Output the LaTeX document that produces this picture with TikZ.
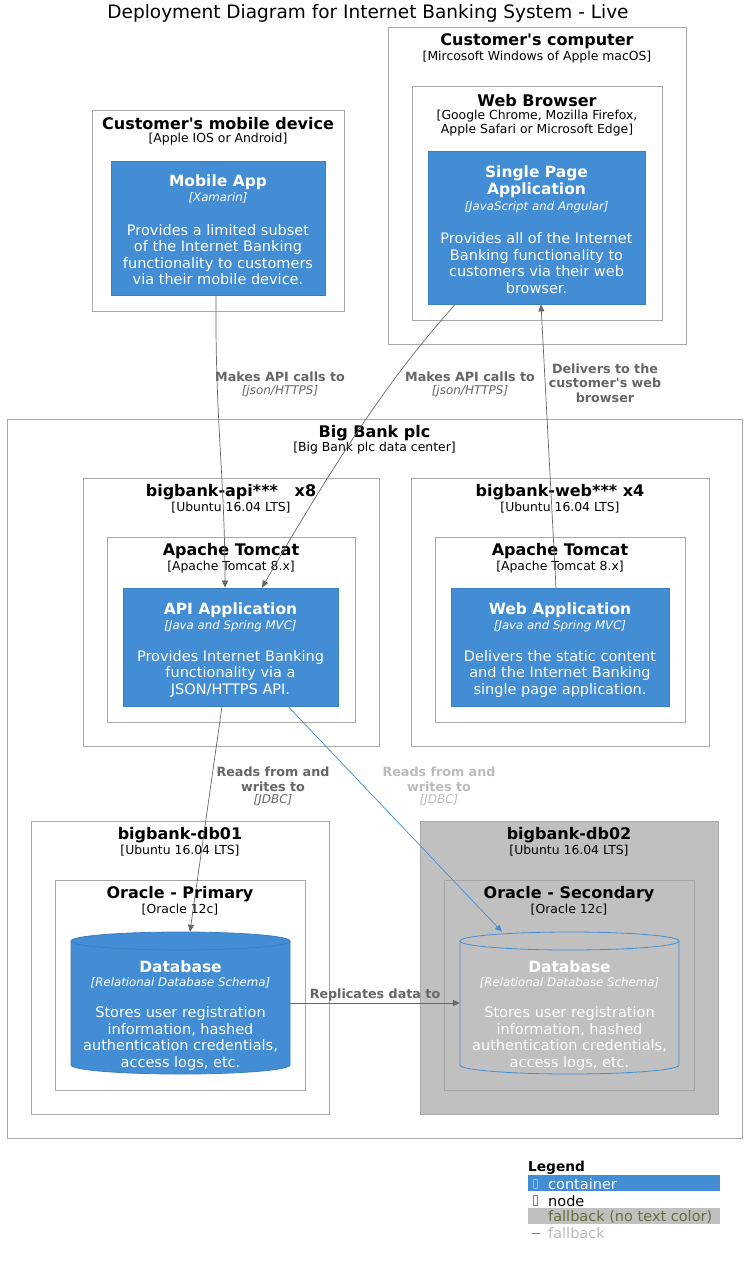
\documentclass[tikz,border=0pt]{standalone}
\usepackage{fontspec}
\setmainfont{DejaVu Sans}
\usetikzlibrary{arrows.meta}
\definecolor{cblue}{HTML}{438DD5}
\definecolor{cbluedk}{HTML}{3C7FC0}
\definecolor{bgray}{HTML}{A8A8A8}
\definecolor{fgray}{HTML}{C0C0C0}
\definecolor{agray}{HTML}{666666}
\definecolor{lgray}{HTML}{BBBBBB}
\definecolor{olive}{HTML}{6B6B3B}
\newcommand{\apos}{\textquotesingle}
\tikzset{
  nodebox/.style={draw=bgray, fill=white, line width=1pt, inner sep=0pt},
  graybox/.style={draw=bgray, fill=fgray, line width=1pt, inner sep=0pt},
  contbox/.style={draw=cbluedk, fill=cblue, line width=0.8pt, inner sep=0pt},
  txt/.style={inner sep=0pt, align=center, yshift=-1.2pt},
  ttl/.style={txt, font=\bfseries\fontsize{16}{18}\selectfont},
  sub/.style={txt, font=\fontsize{12.4}{14}\selectfont},
  ctitle/.style={txt, text=white, font=\bfseries\fontsize{15.5}{17}\selectfont},
  ctech/.style={txt, text=white, font=\itshape\fontsize{11.8}{14}\selectfont},
  cdesc/.style={txt, text=white, font=\fontsize{14.5}{16.5}\selectfont},
  rlab/.style={txt, text=agray, font=\bfseries\fontsize{12.7}{14.3}\selectfont},
  rtech/.style={txt, text=agray, font=\itshape\fontsize{12}{14}\selectfont},
  lgt/.style={txt, anchor=west, font=\fontsize{14.5}{16}\selectfont},
  rel/.style={draw=agray, line width=0.7pt, -{Triangle[length=7pt,width=6pt]}},
  relblue/.style={draw=cblue, line width=0.7pt, -{Triangle[length=7pt,width=6pt]}},
  ghost/.style={inner sep=0pt, draw=none}
}
\begin{document}
\begin{tikzpicture}[x=1pt,y=-1pt]
\useasboundingbox (0,0) rectangle (747,1262);
\fill[white] (0,0) rectangle (747,1262);

\node[txt, font=\fontsize{18.5}{21}\selectfont] (title) at (368,12) {Deployment Diagram for Internet Banking System - Live};

% Customer's computer
\node[nodebox, minimum width=298pt, minimum height=317pt] (cc) at (537,185.5) {};
\node[ttl] (cct) at (537,40) {Customer\apos s computer};
\node[sub] (ccs) at (537,56) {[Mircosoft Windows of Apple macOS]};
\node[nodebox, minimum width=250pt, minimum height=234pt] (wb) at (537,203) {};
\node[ttl] (wbt) at (537,99) {Web Browser};
\node[sub] (wbs) at (537,122) {[Google Chrome, Mozilla Firefox,\\Apple Safari or Microsoft Edge]};
\node[contbox, minimum width=217pt, minimum height=153pt] (spa) at (536.5,227.5) {};
\node[ctitle] (spat) at (536.5,180.5) {Single Page\\Application};
\node[ctech] (spak) at (536.5,206) {[JavaScript and Angular]};
\node[cdesc] (spad) at (536.5,262) {Provides all of the Internet\\Banking functionality to\\customers via their web\\browser.};

% Mobile device
\node[nodebox, minimum width=252pt, minimum height=201pt] (md) at (218,210.5) {};
\node[ttl] (mdt) at (218,122) {Customer\apos s mobile device};
\node[sub] (mds) at (218,138) {[Apple IOS or Android]};
\node[contbox, minimum width=214pt, minimum height=134pt] (mob) at (218,228) {};
\node[ctitle] (mobt) at (218,181) {Mobile App};
\node[ctech] (mobk) at (218,197) {[Xamarin]};
\node[cdesc] (mobd) at (218,253.5) {Provides a limited subset\\of the Internet Banking\\functionality to customers\\via their mobile device.};

% Big Bank plc
\node[nodebox, minimum width=735pt, minimum height=719pt] (bb) at (374.5,778.5) {};
\node[ttl] (bbt) at (374.5,432) {Big Bank plc};
\node[sub] (bbs) at (374.5,447) {[Big Bank plc data center]};

% API server
\node[nodebox, minimum width=296pt, minimum height=268pt] (apis) at (231,612) {};
\node[ttl] (apist) at (231,491) {bigbank-api***\ \ \ x8};
\node[sub] (apiss) at (231,506) {[Ubuntu 16.04 LTS]};
\node[nodebox, minimum width=248pt, minimum height=185pt] (tc1) at (231,629.5) {};
\node[ttl] (tc1t) at (231,550) {Apache Tomcat};
\node[sub] (tc1s) at (231,566) {[Apache Tomcat 8.x]};
\node[contbox, minimum width=215pt, minimum height=118pt] (api) at (230.5,647) {};
\node[ctitle] (apit) at (230.5,609) {API Application};
\node[ctech] (apik) at (230.5,625) {[Java and Spring MVC]};
\node[cdesc] (apid) at (230.5,672.5) {Provides Internet Banking\\functionality via a\\JSON/HTTPS API.};

% Web server
\node[nodebox, minimum width=298pt, minimum height=268pt] (webs) at (560,612) {};
\node[ttl] (webst) at (560,491) {bigbank-web*** x4};
\node[sub] (webss) at (560,506) {[Ubuntu 16.04 LTS]};
\node[nodebox, minimum width=250pt, minimum height=185pt] (tc2) at (560,629.5) {};
\node[ttl] (tc2t) at (560,550) {Apache Tomcat};
\node[sub] (tc2s) at (560,566) {[Apache Tomcat 8.x]};
\node[contbox, minimum width=218pt, minimum height=118pt] (web) at (560,647) {};
\node[ctitle] (webt) at (560,609) {Web Application};
\node[ctech] (webk) at (560,625) {[Java and Spring MVC]};
\node[cdesc] (webd) at (560,672.5) {Delivers the static content\\and the Internet Banking\\single page application.};

% db01
\node[nodebox, minimum width=298pt, minimum height=293pt] (db1s) at (180,967.5) {};
\node[ttl] (db1st) at (180,834) {bigbank-db01};
\node[sub] (db1ss) at (180,849) {[Ubuntu 16.04 LTS]};
\node[nodebox, minimum width=250pt, minimum height=210pt] (or1) at (180,985) {};
\node[ttl] (or1t) at (180,893) {Oracle - Primary};
\node[sub] (or1s) at (180,908) {[Oracle 12c]};
\node[ghost, minimum width=219pt, minimum height=142pt] (db1) at (180.5,1003) {};
\fill[cblue] (71,941) -- (71,1065) arc[start angle=180,end angle=360,x radius=109.5pt,y radius=9pt] -- (290,941) arc[start angle=0,end angle=180,x radius=109.5pt,y radius=9pt] -- cycle;
\draw[cbluedk, line width=0.8pt] (71,941) -- (71,1065) arc[start angle=180,end angle=360,x radius=109.5pt,y radius=9pt] -- (290,941);
\draw[cbluedk, line width=0.8pt] (180.5,941) ellipse[x radius=109.5pt,y radius=9pt];
\node[ctitle] (db1t) at (180.5,966) {Database};
\node[ctech] (db1k) at (180.5,982) {[Relational Database Schema]};
\node[cdesc] (db1d) at (180.5,1037.5) {Stores user registration\\information, hashed\\authentication credentials,\\access logs, etc.};

% db02
\node[graybox, minimum width=298pt, minimum height=293pt] (db2s) at (569,967.5) {};
\node[ttl] (db2st) at (569,834) {bigbank-db02};
\node[sub] (db2ss) at (569,849) {[Ubuntu 16.04 LTS]};
\node[graybox, draw=gray!70, minimum width=250pt, minimum height=210pt] (or2) at (569,985) {};
\node[ttl] (or2t) at (569,893) {Oracle - Secondary};
\node[sub] (or2s) at (569,908) {[Oracle 12c]};
\node[ghost, minimum width=219pt, minimum height=142pt] (db2) at (569.5,1003) {};
\draw[cblue, line width=0.8pt] (460,941) -- (460,1065) arc[start angle=180,end angle=360,x radius=109.5pt,y radius=9pt] -- (679,941);
\draw[cblue, line width=0.8pt] (569.5,941) ellipse[x radius=109.5pt,y radius=9pt];
\node[ctitle] (db2t) at (569.5,966) {Database};
\node[ctech] (db2k) at (569.5,982) {[Relational Database Schema]};
\node[cdesc] (db2d) at (569.5,1037.5) {Stores user registration\\information, hashed\\authentication credentials,\\access logs, etc.};

% connectors
\draw[rel] ([xshift=-2pt]mob.south) .. controls (215,420) and (225,480) .. ([xshift=-5.5pt]api.north);
\node[rlab] (l1) at (280,376) {Makes API calls to};
\node[rtech] (l1k) at (280,390) {[json/HTTPS]};

\draw[rel] ([xshift=-81.5pt]spa.south) .. controls (420,345) and (370,400) .. ([xshift=31.5pt]api.north);
\node[rlab] (l2) at (470,376) {Makes API calls to};
\node[rtech] (l2k) at (470,390) {[json/HTTPS]};

\draw[rel] ([xshift=-4pt]web.north) -- ([xshift=4.5pt]spa.south);
\node[rlab] (l3) at (605,382) {Delivers to the\\customer\apos s web\\browser};

\draw[rel] ([xshift=-8.5pt]api.south) -- ([xshift=9.5pt]db1.north);
\node[rlab] (l4) at (273,778) {Reads from and\\writes to};
\node[rtech] (l4k) at (273,799) {[JDBC]};

\draw[relblue] ([xshift=57.5pt]api.south) -- ([xshift=-67.5pt]db2.north);
\node[rlab, text=lgray] (l5) at (439,778) {Reads from and\\writes to};
\node[rtech, text=lgray] (l5k) at (439,799) {[JDBC]};

\draw[rel] (db1.east) -- (db2.west);
\node[rlab] (l6) at (375,994) {Replicates data to};

% legend
\node[txt, anchor=west, font=\bfseries\fontsize{13.7}{15}\selectfont] (lg) at (528,1167) {Legend};
\node[fill=cblue, inner sep=0pt, minimum width=192pt, minimum height=16pt] (lg1) at (624,1183) {};
\draw[cblue!60!white, line width=0.6pt] (533,1179) rectangle (537,1188);
\node[lgt, text=white] (lg1t) at (548,1183) {container};
\draw[gray, line width=0.6pt] (533,1195) rectangle (537,1205);
\node[lgt] (lg2t) at (548,1200) {node};
\node[fill=fgray, inner sep=0pt, minimum width=192pt, minimum height=16pt] (lg3) at (624,1216) {};
\node[lgt, text=olive] (lg3t) at (548,1216) {fallback (no text color)};
\draw[cblue, line width=1pt] (532,1233) -- (540,1233);
\node[lgt, text=lgray] (lg4t) at (548,1232) {fallback};
\end{tikzpicture}
\end{document}
